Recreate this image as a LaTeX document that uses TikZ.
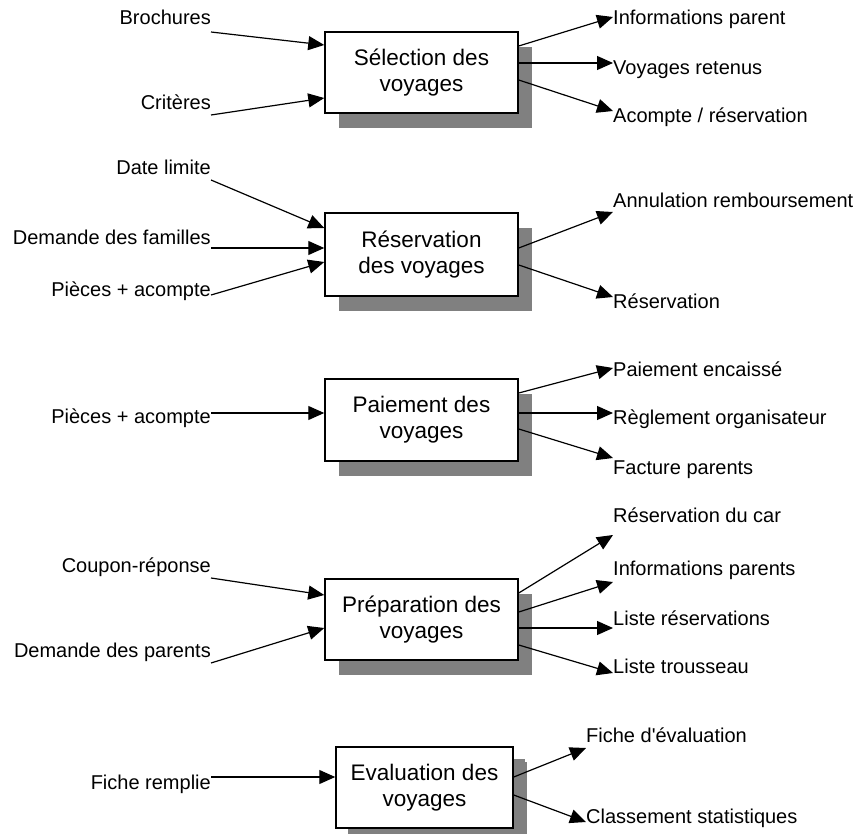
\documentclass[tikz,border=0pt]{standalone}
\usepackage{fontspec}
\setmainfont{Liberation Sans}
\usetikzlibrary{arrows.meta,shadows}
\definecolor{shadowgray}{HTML}{808080}
\begin{document}
\begin{tikzpicture}[x=1pt,y=-1pt,
  proc/.style={draw=black, line width=1.5pt, fill=white,
    minimum width=193pt, minimum height=81pt, inner sep=0pt, align=center,
    font=\fontsize{22.5}{26}\selectfont,
    general shadow={fill=shadowgray, shadow xshift=14pt, shadow yshift=-15pt}},
  inlbl/.style={anchor=base east, inner sep=0pt, font=\fontsize{20}{22}\selectfont},
  outlbl/.style={anchor=base west, inner sep=0pt, font=\fontsize{20}{22}\selectfont},
  flow/.style={line width=1.2pt, -{Triangle[length=16pt,width=14pt]}}
]
\useasboundingbox (0,0) rectangle (856,834);

% ---- Sélection des voyages ----
\node[proc] (b1) at (421.5,72.5) {Sélection des\\voyages};
\node[inlbl] (iBroch) at (211,25) {Brochures};
\node[inlbl] (iCrit) at (211,110) {Critères};
\node[outlbl] (oInfo) at (613,25) {Informations parent};
\node[outlbl] (oVoy) at (613,75) {Voyages retenus};
\node[outlbl] (oAcpt) at (613,123) {Acompte / réservation};
\draw[flow] (iBroch.east |- 0,32) -- (b1.west |- 0,45);
\draw[flow] (iCrit.east |- 0,115) -- (b1.west |- 0,98);
\draw[flow] (b1.east |- 0,46) -- (oInfo.west |- 0,17);
\draw[flow] (b1.east |- 0,63) -- (oVoy.west |- 0,63);
\draw[flow] (b1.east |- 0,80) -- (oAcpt.west |- 0,111);

% ---- Réservation des voyages ----
\node[proc, minimum height=83pt] (b2) at (421.5,254.5) {Réservation\\des voyages};
\node[inlbl] (iDate) at (211,175) {Date limite};
\node[inlbl] (iDemF) at (211,244) {Demande des familles};
\node[inlbl] (iPiec) at (211,296) {Pièces + acompte};
\node[outlbl] (oAnnul) at (613,208) {Annulation remboursement};
\node[outlbl] (oResa) at (613,308) {Réservation};
\draw[flow] (iDate.east |- 0,180) -- (b2.west |- 0,228);
\draw[flow] (iDemF.east |- 0,248) -- (b2.west |- 0,248);
\draw[flow] (iPiec.east |- 0,295) -- (b2.west |- 0,262);
\draw[flow] (b2.east |- 0,248) -- (oAnnul.west |- 0,212);
\draw[flow] (b2.east |- 0,265) -- (oResa.west |- 0,297);

% ---- Paiement des voyages ----
\node[proc, minimum height=82pt] (b3) at (421.5,420) {Paiement des\\voyages};
\node[inlbl] (iPiec2) at (211,423) {Pièces + acompte};
\node[outlbl] (oPaie) at (613,376) {Paiement encaissé};
\node[outlbl] (oRegl) at (613,424) {Règlement organisateur};
\node[outlbl] (oFact) at (613,474) {Facture parents};
\draw[flow] (iPiec2.east |- 0,413) -- (b3.west |- 0,413);
\draw[flow] (b3.east |- 0,393) -- (oPaie.west |- 0,368);
\draw[flow] (b3.east |- 0,413) -- (oRegl.west |- 0,413);
\draw[flow] (b3.east |- 0,429) -- (oFact.west |- 0,458);

% ---- Préparation des voyages ----
\node[proc] (b4) at (421.5,619.5) {Préparation des\\voyages};
\node[inlbl] (iCoup) at (211,572) {Coupon-réponse};
\node[inlbl] (iDemP) at (211,657) {Demande des parents};
\node[outlbl] (oCar) at (613,522) {Réservation du car};
\node[outlbl] (oInfP) at (613,575) {Informations parents};
\node[outlbl] (oList) at (613,625) {Liste réservations};
\node[outlbl] (oTrou) at (613,673) {Liste trousseau};
\draw[flow] (iCoup.east |- 0,578) -- (b4.west |- 0,595);
\draw[flow] (iDemP.east |- 0,663) -- (b4.west |- 0,628);
\draw[flow] (b4.east |- 0,593) -- (oCar.west |- 0,535);
\draw[flow] (b4.east |- 0,612) -- (oInfP.west |- 0,582);
\draw[flow] (b4.east |- 0,628) -- (oList.west |- 0,628);
\draw[flow] (b4.east |- 0,645) -- (oTrou.west |- 0,673);

% ---- Evaluation des voyages ----
\node[proc, minimum width=177pt,
  general shadow={fill=shadowgray, shadow xshift=12pt, shadow yshift=-12pt}]
  (b5) at (424.5,787.5) {Evaluation des\\voyages};
\node[inlbl] (iFich) at (211,789) {Fiche remplie};
\node[outlbl] (oEval) at (586,742) {Fiche d\textquotesingle évaluation};
\node[outlbl] (oClas) at (586,823) {Classement statistiques};
\draw[flow] (iFich.east |- 0,777) -- (b5.west |- 0,777);
\draw[flow] (b5.east |- 0,777) -- (oEval.west |- 0,748);
\draw[flow] (b5.east |- 0,795) -- (oClas.west |- 0,822);
\end{tikzpicture}
\end{document}
